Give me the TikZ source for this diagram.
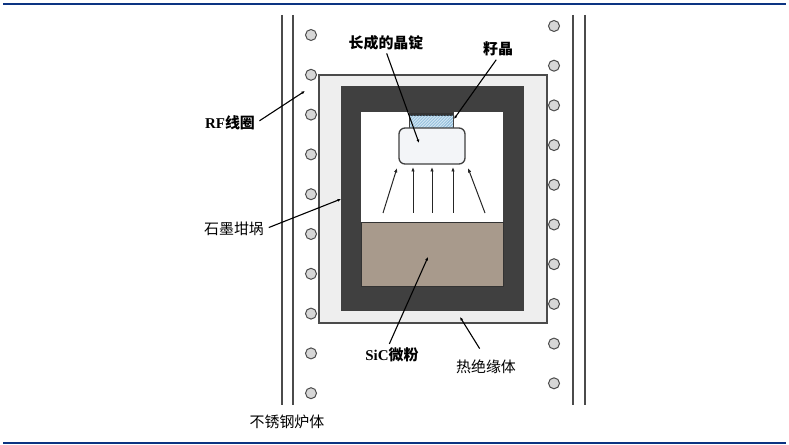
\documentclass[tikz,border=0pt]{standalone}
\usepackage{fontspec}
\setmainfont{Liberation Serif}
\newfontfamily\cjk{Noto Sans CJK SC}
\usepackage{tikz}
\usetikzlibrary{arrows.meta,patterns}

\definecolor{rulebar}{RGB}{12,52,130}
\definecolor{wallgray}{RGB}{75,75,75}
\definecolor{coilfill}{RGB}{215,215,215}
\definecolor{insulfill}{RGB}{238,238,238}
\definecolor{graphite}{RGB}{64,64,64}
\definecolor{sicpowder}{RGB}{168,154,140}
\definecolor{seedblue}{RGB}{205,228,242}
\definecolor{seedhatch}{RGB}{110,165,205}
\definecolor{ingotfill}{RGB}{243,245,248}

\tikzset{
  lbl/.style={font=\cjk\fontsize{15}{18}\selectfont, inner sep=1pt},
  boldlbl/.style={font=\cjk\bfseries\fontsize{15}{18}\selectfont, inner sep=1pt},
  pointer/.style={line width=1.1pt, -{Latex[length=3.5pt,width=3pt]}},
  flux/.style={line width=1pt, black!85, -{Latex[length=4.5pt,width=3.5pt]}},
  wall/.style={line width=1.4pt, wallgray},
  coil/.style={draw=wallgray, fill=coilfill, line width=1pt}
}

\begin{document}
\begin{tikzpicture}[x=1bp,y=-1bp]
    \useasboundingbox (0,0) rectangle (789,445);
    % Draw top and bottom rules
    \draw[rulebar, line width=2.2bp] (3,4) -- (786,4);
    \draw[rulebar, line width=2.2bp] (3,443) -- (786,443);

    % Draw furnace walls
    \draw[wall] (282,15) -- (282,405);
    \draw[wall] (293,15) -- (293,405);
    \draw[wall] (573,15) -- (573,405);
    \draw[wall] (585,15) -- (585,405);

    % Draw RF coil turns
    \foreach \k in {0,...,9} {
        \draw[coil] (311,35+39.8*\k) circle (5.5);
        \draw[coil] (554,26+39.7*\k) circle (5.5);
    }

    % Draw insulation, crucible and cavity
    \draw[wallgray, fill=insulfill, line width=1.2pt] (319,75) rectangle (547,323);
    \fill[graphite] (341,86) rectangle (524,311);
    \fill[white] (361,112) rectangle (503,222);
    \draw[black!80, fill=sicpowder, line width=0.8pt] (361,222) rectangle (503,286);

    % Draw seed and grown ingot
    \fill[black!80] (409,112) rectangle (453,116);
    \fill[seedblue] (409,116) rectangle (453,128);
    \fill[pattern=north east lines, pattern color=seedhatch] (409,116) rectangle (453,128);
    \draw[black!75, line width=0.8pt] (409,112) rectangle (453,128);
    \draw[black!75, fill=ingotfill, line width=1.3pt, rounded corners=6bp] (399,128) rectangle (465,164);

    % Draw vapour flux arrows
    \draw[flux] (383,213) -- (397,168);
    \foreach \x in {413,432,453} {
        \draw[flux] (\x,213) -- (\x,167);
    }
    \draw[flux] (485,213) -- (468,168);

    % Label parts
    \node[boldlbl] (ingotlbl) at (386,43) {长成的晶锭};
    \node[boldlbl] (seedlbl) at (498,49) {籽晶};
    \node[inner sep=1pt] (rflbl) at (230,123) {\fontsize{15}{18}\selectfont\bfseries RF{\cjk 线圈}};
    \node[lbl] (cruclbl) at (234,229) {石墨坩埚};
    \node[inner sep=1pt] (siclbl) at (392,355) {\fontsize{15}{18}\selectfont\bfseries SiC{\cjk 微粉}};
    \node[lbl] (insullbl) at (486,367) {热绝缘体};
    \node[lbl] (shelllbl) at (287,422) {不锈钢炉体};

    % Pointer targets
    \coordinate (ingotpt) at (419,143);
    \coordinate (seedpt) at (454,119);
    \coordinate (rfpt) at (305,91);
    \coordinate (crucpt) at (341,199);
    \coordinate (sicpt) at (428,257);
    \coordinate (insulpt) at (460,317);

    % Draw pointers
    \draw[pointer, shorten <=2bp] (ingotlbl.south) -- (ingotpt);
    \draw[pointer, shorten <=3bp] (seedlbl.south) -- (seedpt);
    \draw[pointer, shorten <=4bp] (rflbl.east) -- (rfpt);
    \draw[pointer, shorten <=4bp] (cruclbl.east) -- (crucpt);
    \draw[pointer, shorten <=3bp] (siclbl.115) -- (sicpt);
    \draw[pointer, shorten <=12bp] (insullbl.north) -- (insulpt);
\end{tikzpicture}
\end{document}
